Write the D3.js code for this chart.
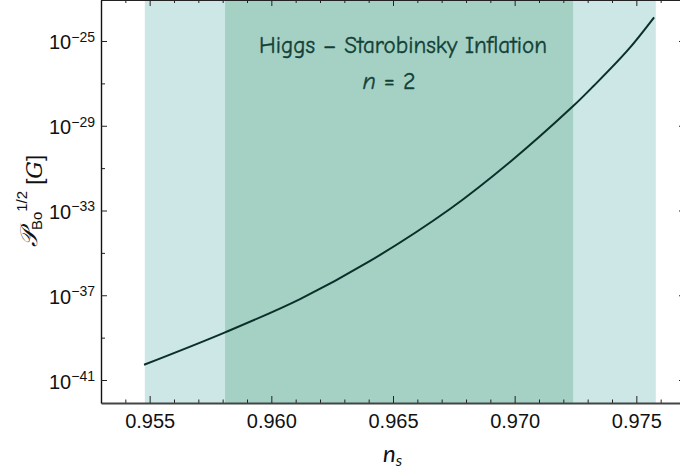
<!DOCTYPE html>
<html>
<head>
<meta charset="utf-8">
<script src="https://cdn.jsdelivr.net/npm/d3@7"></script>
<style>
  body { margin: 0; background: #fff; }
  svg { display: block; }
</style>
</head>
<body>
<script>
// values
const nsVals = [0.95477, 0.95810, 0.96118, 0.96406, 0.96734, 0.96981, 0.97236, 0.97322, 0.97462, 0.97573];
const logPB = [-40.28, -38.75, -37.18, -35.38, -32.93, -30.71, -28.12, -27.15, -25.47, -23.88];
const outerBand = [0.9548, 0.9758];
const innerBand = [0.9581, 0.9724];
const xMajor = [0.955, 0.960, 0.965, 0.970, 0.975];
const xMinor = d3.range(0.953, 0.9775, 0.001).filter(v => !xMajor.some(m => Math.abs(m - v) < 1e-6));
const yMajorExp = [-41, -37, -33, -29, -25];
const yMinorExp = [-39, -35, -31, -27];
const titleLines = ["Higgs – Starobinsky Inflation", "n = 2"];

const width = 680, height = 474;
const plot = {left: 101, right: 685, top: 0, bottom: 403};

const svg = d3.select("body").append("svg")
  .attr("width", width)
  .attr("height", height);

const x = d3.scaleLinear()
  .domain([0.953, 0.977])
  .range([plot.left, plot.right]);

const y = d3.scaleLog()
  .domain([Math.pow(10, -42.085), Math.pow(10, -23.065)])
  .range([plot.bottom, plot.top]);

// bands
svg.append("rect")
  .attr("x", x(outerBand[0]))
  .attr("y", plot.top)
  .attr("width", x(outerBand[1]) - x(outerBand[0]))
  .attr("height", plot.bottom - plot.top)
  .attr("fill", "#cde6e6");

svg.append("rect")
  .attr("x", x(innerBand[0]))
  .attr("y", plot.top)
  .attr("width", x(innerBand[1]) - x(innerBand[0]))
  .attr("height", plot.bottom - plot.top)
  .attr("fill", "#a4d1c4");

// curve
const line = d3.line()
  .x(d => x(d[0]))
  .y(d => y(Math.pow(10, d[1])))
  .curve(d3.curveCatmullRom.alpha(0.5));

svg.append("path")
  .datum(nsVals.map((v, i) => [v, logPB[i]]))
  .attr("d", line)
  .attr("fill", "none")
  .attr("stroke", "#0b2f29")
  .attr("stroke-width", 2);

// axes
const tickFont = "'Liberation Sans', Arial, sans-serif";

function styleAxis(g, color, w) {
  g.select(".domain").attr("stroke", color).attr("stroke-width", w);
  g.selectAll(".tick line").attr("stroke", "#222").attr("stroke-width", 1);
}

// bottom
const gxMinor = svg.append("g")
  .attr("transform", `translate(0,${plot.bottom})`)
  .call(d3.axisBottom(x).tickValues(xMinor).tickSize(-3.5).tickFormat("").tickSizeOuter(0));
gxMinor.select(".domain").remove();
gxMinor.selectAll(".tick line").attr("stroke", "#222");

const gx = svg.append("g")
  .attr("transform", `translate(0,${plot.bottom})`)
  .call(d3.axisBottom(x).tickValues(xMajor).tickSize(-7).tickSizeOuter(0)
    .tickPadding(11).tickFormat(d3.format(".3f")));
styleAxis(gx, "#444", 2);
gx.selectAll(".tick text")
  .attr("font-family", tickFont)
  .attr("font-size", 20)
  .attr("fill", "#111");

// top frame
const gt = svg.append("g")
  .attr("transform", `translate(0,${plot.top})`)
  .call(d3.axisTop(x).tickValues(xMajor).tickSize(-6).tickFormat("").tickSizeOuter(0));
styleAxis(gt, "#222", 1.2);
const gtMinor = svg.append("g")
  .attr("transform", `translate(0,${plot.top})`)
  .call(d3.axisTop(x).tickValues(xMinor).tickSize(-3).tickFormat("").tickSizeOuter(0));
gtMinor.select(".domain").remove();
gtMinor.selectAll(".tick line").attr("stroke", "#222");

// left
const gyMinor = svg.append("g")
  .attr("transform", `translate(${plot.left},0)`)
  .call(d3.axisLeft(y).tickValues(yMinorExp.map(e => Math.pow(10, e))).tickSize(-4).tickFormat("").tickSizeOuter(0));
gyMinor.select(".domain").remove();
gyMinor.selectAll(".tick line").attr("stroke", "#222");

const gy = svg.append("g")
  .attr("transform", `translate(${plot.left},0)`)
  .call(d3.axisLeft(y).tickValues(yMajorExp.map(e => Math.pow(10, e))).tickSize(-6)
    .tickSizeOuter(0).tickPadding(6));
styleAxis(gy, "#111", 1.4);

gy.selectAll(".tick text").each(function(d, i) {
  const t = d3.select(this);
  t.text(null)
    .attr("font-family", tickFont)
    .attr("font-size", 20)
    .attr("fill", "#111")
    .attr("dy", "0.4em");
  t.append("tspan").text("10");
  t.append("tspan")
    .attr("font-size", 14)
    .attr("dy", "-0.55em")
    .text("\u2212" + Math.abs(yMajorExp[i]));
});

// right frame
const gr = svg.append("g")
  .attr("transform", `translate(${plot.right},0)`)
  .call(d3.axisRight(y).tickValues(yMajorExp.map(e => Math.pow(10, e))).tickSize(-6).tickFormat("").tickSizeOuter(0));
styleAxis(gr, "#222", 1.2);

// title
const titleFont = "'Comic Sans MS', 'Comic Neue', Lato, sans-serif";
svg.append("text")
  .attr("x", 259)
  .attr("y", 53)
  .attr("font-family", titleFont)
  .attr("font-size", 24)
  .attr("fill", "#133f36")
  .attr("stroke", "#133f36")
  .attr("stroke-width", 0.4)
  .attr("textLength", 288)
  .attr("lengthAdjust", "spacingAndGlyphs")
  .text(titleLines[0]);

const sub = svg.append("text")
  .attr("x", 389)
  .attr("y", 89)
  .attr("text-anchor", "middle")
  .attr("font-family", titleFont)
  .attr("font-size", 24)
  .attr("fill", "#133f36")
  .attr("stroke", "#133f36")
  .attr("stroke-width", 0.4)
  .style("white-space", "pre");
sub.append("tspan").attr("font-style", "italic").text(titleLines[1].split(" ")[0]);
sub.append("tspan").text(" " + titleLines[1].split(" ").slice(1).join(" "));

// x label
const xl = svg.append("text")
  .attr("x", 383)
  .attr("y", 462)
  .attr("font-family", "Lato, 'DejaVu Sans', sans-serif")
  .attr("font-size", 24)
  .attr("font-style", "italic")
  .attr("fill", "#111");
xl.append("tspan").text("n");
xl.append("tspan").attr("font-size", 16).attr("dy", "0.25em").text("s");

// y label
const yl = svg.append("text")
  .attr("transform", "translate(37,201) rotate(-90)")
  .attr("text-anchor", "middle")
  .attr("font-family", "'DejaVu Serif', serif")
  .attr("font-size", 24)
  .attr("fill", "#111");
yl.append("tspan").attr("font-style", "italic").text("\uD835\uDCAB");
yl.append("tspan").attr("font-family", tickFont).attr("font-size", 15).attr("dy", "0.3em").text("Bo");
yl.append("tspan").attr("font-family", tickFont).attr("font-size", 15).attr("dy", "-0.95em").text("1/2");
yl.append("tspan").attr("font-family", tickFont).attr("font-size", 22).attr("dy", "0.65em").text(" [");
yl.append("tspan").attr("font-style", "italic").attr("font-size", 22).text("G");
yl.append("tspan").attr("font-family", tickFont).attr("font-size", 22).text("]");
</script>
</body>
</html>
